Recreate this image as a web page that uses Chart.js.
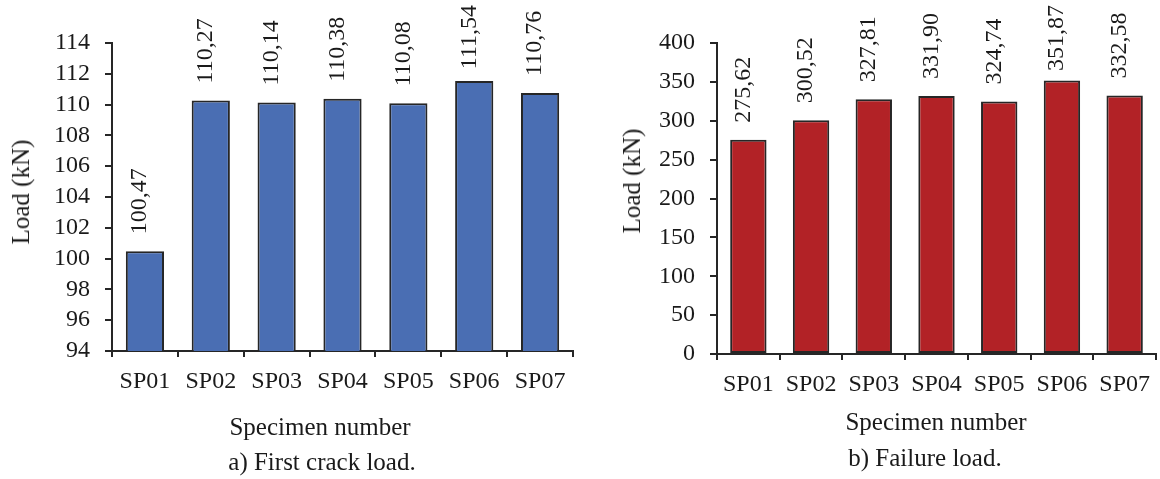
<!DOCTYPE html>
<html>
<head>
<meta charset="utf-8">
<script src="https://cdn.jsdelivr.net/npm/chart.js@4.4.1/dist/chart.umd.min.js"></script>
<style>
  html, body { margin: 0; padding: 0; background: #fff; }
  body { width: 1160px; height: 479px; position: relative; overflow: hidden; font-family: "Liberation Serif", "Times New Roman", serif; color: #1a1a1a; }
  .panel { position: absolute; top: 0; width: 580px; height: 479px; }
  .txt { position: absolute; font-size: 25px; line-height: 30px; text-align: center; white-space: nowrap; color: #1a1a1a; }
  .ytitle { transform: translate(-50%, -50%) rotate(-90deg); }
</style>
</head>
<body>
<div class="panel" style="left:0"><canvas id="crack" width="580" height="479"></canvas></div>
<div class="panel" style="left:580px"><canvas id="failure" width="580" height="479"></canvas></div>

<div class="txt ytitle" style="left:21px; top:192px;">Load (kN)</div>
<div class="txt" style="left:120px; width:400px; top:412px;">Specimen number</div>
<div class="txt" style="left:122px; width:400px; top:447px;">a) First crack load.</div>

<div class="txt ytitle" style="left:632px; top:181px;">Load (kN)</div>
<div class="txt" style="left:736px; width:400px; top:407px;">Specimen number</div>
<div class="txt" style="left:725px; width:400px; top:443px;">b) Failure load.</div>

<script>
// Specimens tested
const specimens = ['SP01', 'SP02', 'SP03', 'SP04', 'SP05', 'SP06', 'SP07'];

// First crack load (kN)
const crackLoad = [100.47, 110.27, 110.14, 110.38, 110.08, 111.54, 110.76];

// Failure load (kN)
const failureLoad = [275.62, 300.52, 327.81, 331.90, 324.74, 351.87, 332.58];

// Axis ranges
const crackAxis = { min: 94, max: 114, step: 2 };
const failureAxis = { min: 0, max: 400, step: 50 };

const FONT = "'Liberation Serif', 'Times New Roman', serif";
const INK = '#1a1a1a';
const AXIS = '#262626';

// Vertical value labels written above each bar, decimal comma;
// a label that would run off the top of the canvas is pulled down.
const barValueLabels = {
  id: 'barValueLabels',
  afterDatasetsDraw(chart) {
    const ctx = chart.ctx;
    const ds = chart.data.datasets[0];
    const meta = chart.getDatasetMeta(0);
    ctx.save();
    ctx.font = '24px ' + FONT;
    ctx.fillStyle = INK;
    ctx.textAlign = 'left';
    ctx.textBaseline = 'middle';
    meta.data.forEach((bar, i) => {
      const text = ds.data[i].toFixed(2).replace('.', ',');
      const len = ctx.measureText(text).width;
      let start = bar.y - 17;
      if (start - len < 5) start = 5 + len;
      ctx.save();
      ctx.translate(bar.x - 5, start);
      ctx.rotate(-Math.PI / 2);
      ctx.fillText(text, 0, 0);
      ctx.restore();
    });
    ctx.restore();
  }
};

function makeChart(id, values, axis, color, opts) {
  return new Chart(document.getElementById(id), {
    type: 'bar',
    data: {
      labels: specimens,
      datasets: [{
        data: values,
        backgroundColor: color,
        borderColor: AXIS,
        borderWidth: 2,
        borderSkipped: false,
        categoryPercentage: 1,
        barPercentage: 0.58
      }]
    },
    options: {
      responsive: false,
      animation: false,
      devicePixelRatio: 1,
      layout: { padding: { top: 43, right: opts.padRight, bottom: 0, left: 0 } },
      plugins: { legend: { display: false }, tooltip: { enabled: false } },
      scales: {
        x: {
          grid: { offset: true, drawOnChartArea: false, drawTicks: true, tickLength: 6, color: AXIS, lineWidth: 2 },
          border: { display: true, color: AXIS, width: 2 },
          ticks: { font: { family: FONT, size: 24 }, color: INK, padding: opts.xPad, maxRotation: 0, autoSkip: false },
          afterFit(scale) { scale.height = opts.xHeight; }
        },
        y: {
          min: axis.min,
          max: axis.max,
          grid: { drawOnChartArea: false, drawTicks: true, tickLength: 7, color: AXIS, lineWidth: 2 },
          border: { display: true, color: AXIS, width: 2 },
          ticks: { stepSize: axis.step, autoSkip: false, font: { family: FONT, size: 24 }, color: INK, padding: 15 },
          afterFit(scale) { scale.width = opts.yWidth; }
        }
      }
    },
    plugins: [barValueLabels]
  });
}

makeChart('crack', crackLoad, crackAxis, '#4a6eb3', { padRight: 7, xHeight: 128, xPad: 10, yWidth: 112 });
makeChart('failure', failureLoad, failureAxis, '#b22226', { padRight: 0, xHeight: 125, xPad: 10, yWidth: 137 });
</script>
</body>
</html>
